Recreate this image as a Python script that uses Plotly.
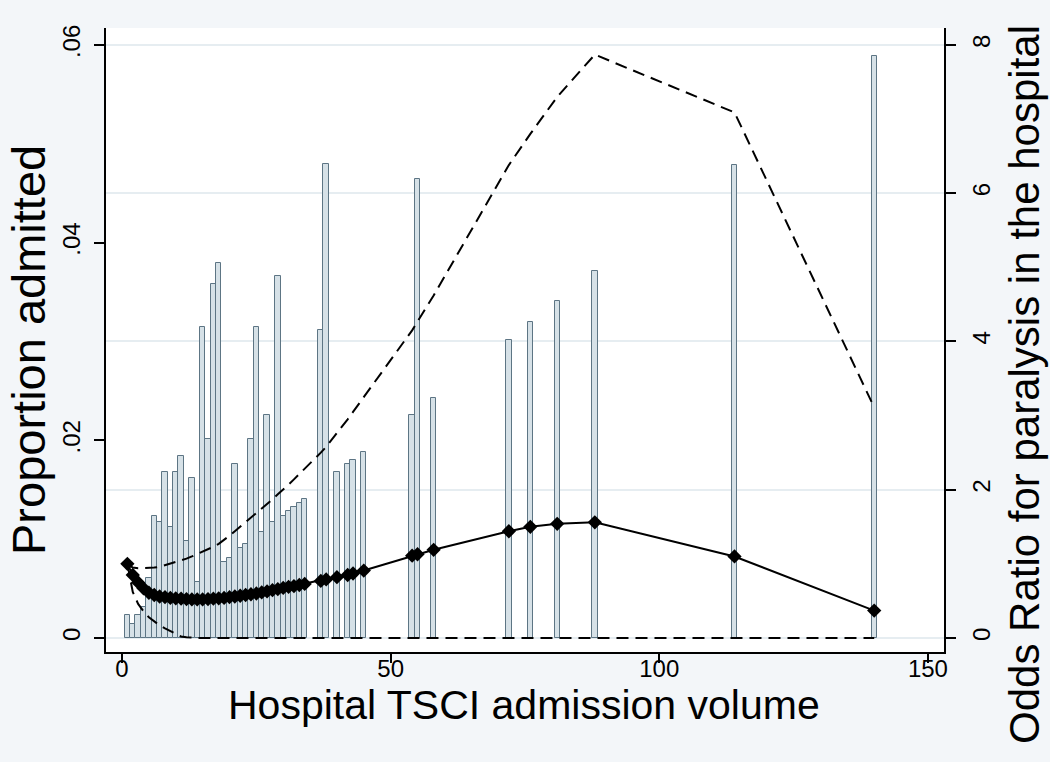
import plotly.graph_objects as go

# ---- data ----
volume = [1, 2, 3, 4, 5, 6, 7, 8, 9, 10, 11, 12, 13, 14, 15, 16, 17, 18, 19, 20,
          21, 22, 23, 24, 25, 26, 27, 28, 29, 30, 31, 32, 33, 34, 37, 38, 40, 42, 43, 45,
          54, 55, 58, 72, 76, 81, 88, 114, 140]

proportion = [0.0023, 0.0014, 0.0023, 0.0031, 0.0061, 0.0123, 0.0117, 0.0168, 0.0112, 0.0168,
              0.0184, 0.0098, 0.0162, 0.0057, 0.0315, 0.0201, 0.0358, 0.0379, 0.0077, 0.0081,
              0.0176, 0.0091, 0.0095, 0.0201, 0.0315, 0.0107, 0.0226, 0.0117, 0.0366, 0.0123,
              0.0128, 0.0133, 0.0137, 0.0141, 0.0312, 0.0480, 0.0168, 0.0176, 0.0180, 0.0188,
              0.0226, 0.0464, 0.0243, 0.0302, 0.0320, 0.0341, 0.0371, 0.0479, 0.0589]

odds_ratio = [1.00, 0.85, 0.75, 0.67, 0.61, 0.58, 0.56, 0.55, 0.54, 0.535,
              0.53, 0.525, 0.52, 0.52, 0.52, 0.525, 0.53, 0.535, 0.54, 0.55,
              0.56, 0.57, 0.58, 0.59, 0.60, 0.615, 0.63, 0.645, 0.66, 0.675,
              0.69, 0.70, 0.715, 0.73, 0.77, 0.79, 0.82, 0.85, 0.87, 0.91,
              1.11, 1.13, 1.19, 1.44, 1.50, 1.54, 1.56, 1.10, 0.37]

upper_ci = [1.00, 0.95, 0.94, 0.94, 0.94, 0.95, 0.96, 0.98, 1.00, 1.02,
            1.04, 1.07, 1.10, 1.13, 1.16, 1.20, 1.23, 1.27, 1.32, 1.38,
            1.44, 1.50, 1.56, 1.62, 1.68, 1.75, 1.81, 1.87, 1.94, 2.00,
            2.07, 2.14, 2.21, 2.28, 2.50, 2.58, 2.76, 2.95, 3.05, 3.25,
            4.15, 4.27, 4.62, 6.38, 6.80, 7.30, 7.87, 7.09, 3.11]

lower_ci = [1.00, 0.62, 0.46, 0.36, 0.28, 0.22, 0.17, 0.13, 0.09, 0.05,
            0.02, 0.01, 0.0, 0.0, 0.0, 0.0, 0.0, 0.0, 0.0, 0.0,
            0.0, 0.0, 0.0, 0.0, 0.0, 0.0, 0.0, 0.0, 0.0, 0.0,
            0.0, 0.0, 0.0, 0.0, 0.0, 0.0, 0.0, 0.0, 0.0, 0.0,
            0.0, 0.0, 0.0, 0.0, 0.0, 0.0, 0.0, 0.0, 0.0]

x_ticks = [0, 50, 100, 150]
y_ticks = [0, 0.02, 0.04, 0.06]
y_ticktext = ["0", ".02", ".04", ".06"]
y2_ticks = [0, 2, 4, 6, 8]

x_title = "Hospital TSCI admission volume"
y_title = "Proportion admitted"
y2_title = "Odds Ratio for paralysis in the hospital"

FONT = "Liberation Sans, Arial, sans-serif"
BG = "#f3f6f9"

fig = go.Figure()

fig.add_trace(go.Bar(
    x=volume, y=proportion, width=1.0,
    marker=dict(color="#d6e1e7", line=dict(color="#5d7584", width=1)),
    yaxis="y", showlegend=False,
))

dash = "12px,7px"
fig.add_trace(go.Scatter(
    x=volume, y=upper_ci, mode="lines", yaxis="y2",
    line=dict(color="black", width=2, dash=dash), showlegend=False,
))
fig.add_trace(go.Scatter(
    x=volume, y=lower_ci, mode="lines", yaxis="y2",
    line=dict(color="black", width=2, dash=dash), showlegend=False,
))
fig.add_trace(go.Scatter(
    x=volume, y=odds_ratio, mode="lines+markers", yaxis="y2",
    line=dict(color="black", width=2),
    marker=dict(symbol="diamond", size=11, color="black"),
    showlegend=False,
))

axis_common = dict(
    ticks="outside", tickwidth=1.5, tickcolor="black",
    showline=True, linecolor="black", linewidth=1.5,
    zeroline=False, automargin=False,
    tickfont=dict(size=24),
)

fig.update_layout(
    width=1050, height=762,
    margin=dict(l=106, r=106, t=28, b=110),
    paper_bgcolor=BG, plot_bgcolor="white",
    font=dict(family=FONT, color="black"),
    bargap=0,
    xaxis=dict(range=[-2.98, 152.99], tickvals=x_ticks, showgrid=False,
               ticklen=9, ticklabelstandoff=-15, **axis_common),
    yaxis=dict(range=[-0.001417, 0.06172], tickvals=y_ticks, ticktext=y_ticktext,
               tickangle=-90, showgrid=False, ticklen=10, ticklabelstandoff=5, **axis_common),
    yaxis2=dict(range=[-0.189, 8.229], tickvals=y2_ticks,
                overlaying="y", side="right", tickangle=-90,
                showgrid=True, gridcolor="#e6edf1", gridwidth=1.5,
                ticklen=10, ticklabelstandoff=5, layer="below traces", **axis_common),
    annotations=[
        dict(text=x_title, xref="paper", yref="paper", x=0.4988, y=(652 - 705) / 624,
             xanchor="center", yanchor="middle", showarrow=False, font=dict(size=41)),
        dict(text=y_title, xref="paper", yref="paper", x=(29 - 106) / 838, y=(652 - 350) / 624,
             xanchor="center", yanchor="middle", textangle=-90, showarrow=False,
             font=dict(size=47)),
        dict(text=y2_title, xref="paper", yref="paper", x=(1024 - 106) / 838, y=(652 - 385) / 624,
             xanchor="center", yanchor="middle", textangle=-90, showarrow=False,
             font=dict(size=42)),
    ],
)

fig.write_html(
    "out.html",
    config={"displayModeBar": False},
    post_script=(
        "document.body.style.margin='0';"
        "document.body.style.padding='0';"
        "document.body.style.background='" + BG + "';"
    ),
)
